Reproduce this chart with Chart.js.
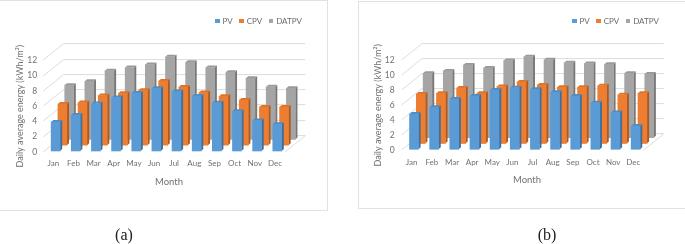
<!DOCTYPE html>
<html>
<head>
<meta charset="utf-8">
<script src="https://cdn.jsdelivr.net/npm/chart.js@4"></script>
<style>
  html, body { margin:0; padding:0; background:#fff; overflow:hidden; }
  #page { position:relative; width:685px; height:244px; overflow:hidden; filter:blur(0.4px); }
  .frame { position:absolute; border:1px solid #e2e2e2; box-sizing:border-box; }
  canvas { position:absolute; top:0; }
  .cap { position:absolute; top:226px; font:16px "Liberation Serif", serif; color:#222; transform:translateX(-50%); }
  .legend { position:absolute; top:16px; display:flex; font:8px Lato, sans-serif; color:#6b6b6b; line-height:10px; }
  .legend span.item { display:flex; align-items:center; margin-right:6.5px; }
  .legend i { display:inline-block; width:4.5px; height:4.5px; margin-right:3px; }
</style>
</head>
<body>
<div id="page">
  <div class="frame" style="left:-1px;top:0;width:329px;height:211px"></div>
  <div class="frame" style="left:358px;top:1px;width:328px;height:208px"></div>
  <canvas id="chartA" style="left:0"></canvas>
  <canvas id="chartB" style="left:369px"></canvas>
  <div class="legend" id="legA" style="left:215px"></div>
  <div class="legend" id="legB" style="left:572px"></div>
  <div class="cap" style="left:124px">(a)</div>
  <div class="cap" style="left:547px">(b)</div>
</div>
<script>
'use strict';
const months = ['Jan','Feb','Mar','Apr','May','Jun','Jul','Aug','Sep','Oct','Nov','Dec'];
const names = ['PV','CPV','DATPV'];
const yTicks = [0,2,4,6,8,10,12];

const pvA  = [3.8,4.7,6.2,7.0,7.6,8.2,7.8,7.2,6.3,5.2,4.0,3.5];
const cpvA = [5.4,5.6,6.5,6.8,7.2,8.4,7.6,6.9,6.4,5.9,5.0,5.0];
const datA = [7.1,7.6,9.0,9.4,9.8,10.8,10.1,9.4,8.8,8.0,6.9,6.7];

const pvB  = [4.7,5.6,6.7,7.1,7.9,8.2,8.0,7.6,7.1,6.2,4.9,3.1];
const cpvB = [6.6,6.7,7.4,6.7,7.6,8.2,7.8,7.5,7.5,7.7,6.5,6.7];
const datB = [8.6,8.9,9.7,9.3,10.3,10.8,10.4,10.0,9.9,9.8,8.6,8.5];

const FRONT = ['#5b9bd5','#ed7d31','#a5a5a5'];
const SIDE  = ['#3f6f9c','#ad5a22','#787878'];
const TOP   = ['#4f8cc4','#e07228','#999999'];
const GRID = '#dcdcdc', TEXT = '#717171', FONT = 'Lato, sans-serif';

// fake 3D: each series sits further back on the floor
const depth = (i) => ({ x: 2.3 + i * 6.8, y: -1 - i * 5.8 });
const SX = 2.2, SY = -2;
const WALL = { x: 20.4, y: -16.4 };

const wall3d = {
  id: 'wall3d',
  beforeDatasetsDraw(chart) {
    const { ctx, chartArea: a, scales: { y } } = chart;
    ctx.save();
    ctx.strokeStyle = GRID; ctx.lineWidth = 1;
    yTicks.forEach((v) => {
      const py = Math.round(y.getPixelForValue(v)) ;
      ctx.beginPath();
      ctx.moveTo(a.left, py);
      ctx.lineTo(a.left + WALL.x, py + WALL.y);
      ctx.lineTo(a.right + WALL.x, py + WALL.y);
      ctx.stroke();
    });
    const py0 = y.getPixelForValue(0);
    ctx.beginPath();
    ctx.moveTo(a.right, py0);
    ctx.lineTo(a.right + WALL.x, py0 + WALL.y);
    ctx.stroke();
    ctx.restore();
  },
  beforeDatasetDraw(chart, args) {
    const { ctx } = chart, i = args.index, d = depth(i);
    ctx.save();
    ctx.translate(d.x, d.y);
    chart.getDatasetMeta(i).data.forEach((el) => {
      const l = el.x - el.width / 2, r = el.x + el.width / 2;
      ctx.fillStyle = SIDE[i];
      ctx.beginPath();
      ctx.moveTo(r, el.y); ctx.lineTo(r + SX, el.y + SY);
      ctx.lineTo(r + SX, el.base + SY); ctx.lineTo(r, el.base);
      ctx.closePath(); ctx.fill();
      ctx.fillStyle = TOP[i];
      ctx.beginPath();
      ctx.moveTo(l, el.y); ctx.lineTo(l + SX, el.y + SY);
      ctx.lineTo(r + SX, el.y + SY); ctx.lineTo(r, el.y);
      ctx.closePath(); ctx.fill();
    });
  },
  afterDatasetDraw(chart) { chart.ctx.restore(); },
};

function makeChart(id, cfg) {
  const cv = document.getElementById(id);
  cv.width = cfg.w; cv.height = 215;
  cv.style.width = cfg.w + 'px'; cv.style.height = '215px';
  return new Chart(cv, {
    type: 'bar',
    data: {
      labels: months,
      datasets: cfg.series.map((vals, i) => ({
        label: names[i], data: vals, backgroundColor: FRONT[i], yAxisID: 'y',
        borderWidth: 0, barThickness: 8.9, grouped: false, clip: false,
      })),
    },
    options: {
      responsive: false, animation: false, devicePixelRatio: 1,
      layout: { padding: { left: 0, top: 60.3, right: 0, bottom: 0 } },
      plugins: {
        legend: { display: false },
        tooltip: { enabled: false },
        title: {
          display: true, text: 'Month', position: 'bottom', color: TEXT,
          font: { family: FONT, size: 9.5, weight: 'normal' },
          padding: { top: 0, bottom: 215 - cfg.monthY - 5.7 },
        },
      },
      scales: {
        x: {
          grid: { display: false, drawTicks: false }, border: { display: false },
          ticks: { color: TEXT, font: { family: FONT, size: 8 }, padding: 7, maxRotation: 0, autoSkip: false },
          afterFit(s) { s.height = cfg.monthY - 5.7 - cfg.bottom; },
        },
        y: {
          min: 0, max: 12,
          grid: { display: false, drawTicks: false }, border: { display: false },
          ticks: { color: TEXT, font: { family: FONT, size: 8.5 }, padding: cfg.tickPad, stepSize: 2 },
          title: {
            display: true, text: 'Daily average energy (kWh/m²)', color: TEXT,
            font: { family: FONT, size: 9 }, padding: { top: cfg.titlePad, bottom: 0 },
          },
          afterFit(s) { s.width = cfg.left; },
        },
        // empty right axis only reserves the room the depth of the walls needs
        room: {
          position: 'right', min: 0, max: 1,
          grid: { display: false, drawTicks: false }, border: { display: false },
          ticks: { display: false },
          afterFit(s) { s.width = cfg.w - cfg.right; },
        },
      },
    },
    plugins: [wall3d],
  });
}

function makeLegend(id) {
  const box = document.getElementById(id);
  names.forEach((n, i) => {
    const s = document.createElement('span'); s.className = 'item';
    s.innerHTML = `<i style="background:${FRONT[i]}"></i>${n}`;
    box.appendChild(s);
  });
}

makeChart('chartA', { w: 338, left: 43.2, right: 285, bottom: 152, monthY: 182, tickPad: 6, titlePad: 14.5, series: [pvA, cpvA, datA] });
makeChart('chartB', { w: 316, left: 32.6, right: 274.4, bottom: 150.3, monthY: 180, tickPad: 7, titlePad: 3.5, series: [pvB, cpvB, datB] });
makeLegend('legA');
makeLegend('legB');
</script>
</body>
</html>
